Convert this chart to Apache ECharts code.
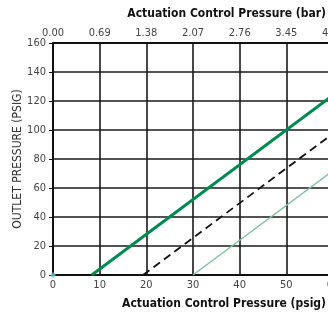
<!DOCTYPE html>
<html>
<head>
<meta charset="utf-8">
<script src="https://cdn.jsdelivr.net/npm/echarts@6/dist/echarts.min.js"></script>
<style>
html, body { margin: 0; padding: 0; background: #fff; }
#chart { width: 328px; height: 313px; }
</style>
</head>
<body>
<div id="chart"></div>
<script>
// psig values
var full_green = [[8.3, 0], [60, 124]];
var dashed_black = [[19.3, 0], [60, 97.5]];
var light_green = [[30, 0], [60, 72]];
var origin_dot = [[0, 0]];
var bar_labels = ["0.00", "0.69", "1.38", "2.07", "2.76", "3.45", "4.14"];

var font_name = "'DejaVu Sans Condensed', 'Liberation Sans', sans-serif";
var grid_line = { show: true, lineStyle: { color: "#1a1a1a", width: 1.6 } };

var my_chart = echarts.init(document.getElementById("chart"));

var option = {
    animation: false,
    grid: { left: 53, top: 43, width: 280, height: 232, outerBoundsMode: "none", containLabel: false },
    xAxis: [
        {
            type: "value", min: 0, max: 60, interval: 10, position: "bottom",
            axisLine: { show: true, lineStyle: { color: "#111", width: 2 } },
            axisTick: { show: false },
            axisLabel: { color: "#444", fontFamily: font_name, fontSize: 11, margin: 5 },
            splitLine: grid_line
        },
        {
            type: "value", min: 0, max: 60, interval: 10, position: "top",
            axisLine: { show: true, lineStyle: { color: "#111", width: 2 } },
            axisTick: { show: false },
            axisLabel: {
                color: "#444", fontFamily: font_name, fontSize: 11, margin: 4,
                formatter: function (v) { return bar_labels[Math.round(v / 10)]; }
            },
            splitLine: { show: false }
        }
    ],
    yAxis: {
        type: "value", min: 0, max: 160, interval: 20,
        name: "OUTLET PRESSURE (PSIG)", nameLocation: "middle", nameGap: 29,
        nameMoveOverlap: false,
        nameTextStyle: { color: "#333", fontFamily: font_name, fontSize: 12 },
        axisLine: { show: true, lineStyle: { color: "#111", width: 2 } },
        axisTick: { show: true, length: 4, lineStyle: { color: "#111" } },
        axisLabel: { color: "#444", fontFamily: font_name, fontSize: 11, margin: 7 },
        splitLine: grid_line
    },
    graphic: [
        {
            type: "text", right: 2, top: 8,
            style: { text: "Actuation Control Pressure (bar)", fill: "#111",
                     font: "bold 12px 'DejaVu Sans Condensed', 'Liberation Sans', sans-serif" }
        },
        {
            type: "text", right: 2, top: 298,
            style: { text: "Actuation Control Pressure (psig)", fill: "#111",
                     font: "bold 12px 'DejaVu Sans Condensed', 'Liberation Sans', sans-serif" }
        }
    ],
    series: [
        {
            type: "line", data: light_green, symbol: "none",
            lineStyle: { color: "#7cc4a2", width: 1.5 }
        },
        {
            type: "line", data: dashed_black, symbol: "none",
            lineStyle: { color: "#111", width: 1.8, type: [8, 5] }
        },
        {
            type: "line", data: full_green, symbol: "none",
            lineStyle: { color: "#008c4f", width: 3 }
        },
        {
            type: "scatter", data: origin_dot, symbolSize: 5,
            itemStyle: { color: "#6cc6de" }
        }
    ]
};

my_chart.setOption(option);
</script>
</body>
</html>
